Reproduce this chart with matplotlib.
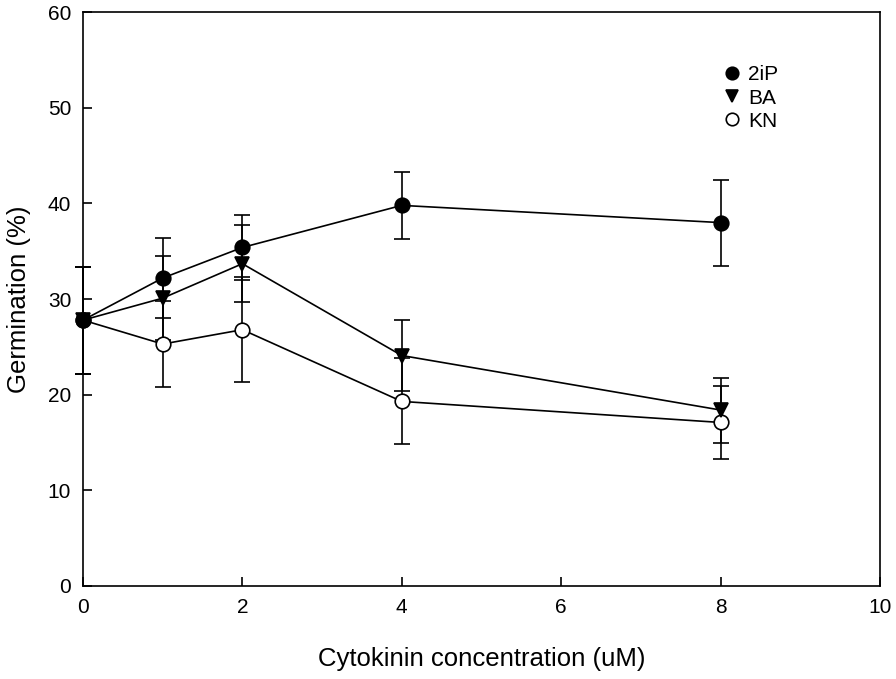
import numpy as np
import matplotlib.pyplot as plt
from matplotlib.lines import Line2D

plt.rcParams['font.family'] = ['Liberation Sans', 'DejaVu Sans']

# Data
conc = [0, 1, 2, 4, 8]

ip_mean = [27.8, 32.2, 35.4, 39.8, 38.0]
ip_err = [5.6, 4.2, 3.4, 3.5, 4.5]

ba_mean = [27.8, 30.1, 33.7, 24.1, 18.4]
ba_err = [5.6, 4.4, 4.0, 3.7, 3.4]

kn_mean = [27.8, 25.3, 26.8, 19.3, 17.1]
kn_err = [5.6, 4.5, 5.5, 4.5, 3.8]

fig = plt.figure(figsize=(8.96, 6.79), dpi=100)
ax = fig.add_axes([0.0926, 0.137, 0.8895, 0.845])

style = dict(color='black', linewidth=1.2, elinewidth=1.2, capsize=6,
             capthick=1.2, markersize=10.5, markeredgewidth=1.2, clip_on=False)

# KN drawn first so the filled markers sit on top, as in the original
ax.errorbar(conc, kn_mean, yerr=kn_err, fmt='-o', markerfacecolor='white', **style)
ax.errorbar(conc, ba_mean, yerr=ba_err, fmt='-v', markerfacecolor='black', **style)
ax.errorbar(conc, ip_mean, yerr=ip_err, fmt='-o', markerfacecolor='black', **style)

ax.set_xlim(0, 10)
ax.set_ylim(0, 60)
ax.set_xticks(np.arange(0, 11, 2))
ax.set_yticks(np.arange(0, 61, 10))
ax.tick_params(direction='in', length=6.5, width=1.2, labelsize=15, pad=8.5)
for s in ax.spines.values():
    s.set_linewidth(1.2)

ax.set_xlabel('Cytokinin concentration (uM)', fontsize=18.5, labelpad=22)
ax.set_ylabel('Germination (%)', fontsize=18.5, labelpad=12)

# marker-only legend entries
mk = dict(color='black', linestyle='none', markersize=9, markeredgewidth=1.2)
handles = [Line2D([], [], marker='o', markerfacecolor='black', **mk),
           Line2D([], [], marker='v', markerfacecolor='black', **mk),
           Line2D([], [], marker='o', markerfacecolor='white', **mk)]
ax.legend(handles, ['2iP', 'BA', 'KN'], loc='upper left',
          bbox_to_anchor=(0.78, 0.94), frameon=False, fontsize=15,
          handlelength=0.8, handletextpad=0.4, labelspacing=0.2)

fig.savefig('out.png', dpi=100)
